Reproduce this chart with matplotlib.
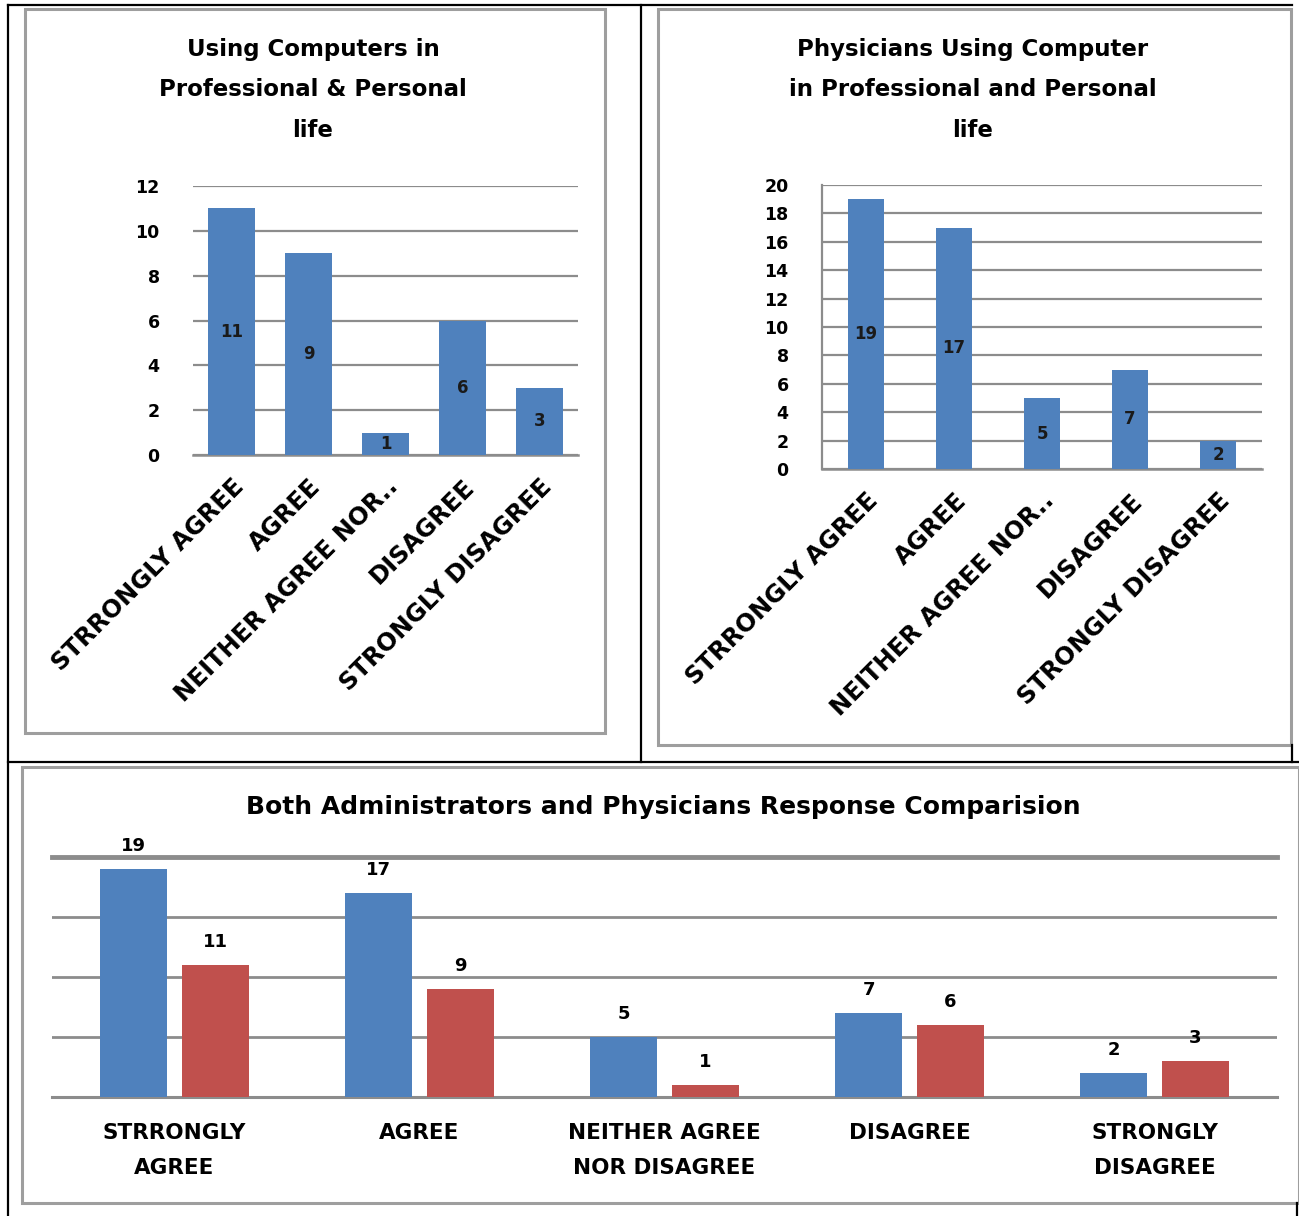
import matplotlib
matplotlib.use("Agg")
import matplotlib.pyplot as plt
from matplotlib.lines import Line2D
from matplotlib.patches import Rectangle
import numpy as np

# categories and values
short_labels = ["STRRONGLY AGREE", "AGREE", "NEITHER AGREE NOR..", "DISAGREE", "STRONGLY DISAGREE"]
long_labels = ["STRRONGLY\nAGREE", "AGREE", "NEITHER AGREE\nNOR DISAGREE", "DISAGREE", "STRONGLY\nDISAGREE"]
admin_counts = [11, 9, 1, 6, 3]
physician_counts = [19, 17, 5, 7, 2]

title_admin = "Using Computers in\nProfessional & Personal\nlife"
title_phys = "Physicians Using Computer\nin Professional and Personal\nlife"
title_both = "Both Administrators and Physicians Response Comparision"

blue = "#4F81BD"
red = "#C0504D"
grid_c = "#8c8c8c"

W, H = 1299, 1216
fig = plt.figure(figsize=(W / 100, H / 100), dpi=100)


def fx(x):
    return x / W


def fy(y):
    return 1 - y / H


def ax_at(left, top, right, bottom):
    return fig.add_axes([fx(left), fy(bottom), (right - left) / W, (bottom - top) / H])


def line(x0, y0, x1, y1, color="black", lw=1.6):
    fig.add_artist(Line2D([fx(x0), fx(x1)], [fy(y0), fy(y1)], transform=fig.transFigure,
                          color=color, lw=lw))


def box(x0, y0, x1, y1):
    fig.add_artist(Rectangle((fx(x0), fy(y1)), (x1 - x0) / W, (y1 - y0) / H,
                             transform=fig.transFigure, fill=False, ec="#9e9e9e", lw=2.2))


# page frame lines
line(8, 5, 1292, 5)
line(8, 5, 8, 1216)
line(641, 5, 641, 762)
line(8, 762, 1299, 762)
line(1292, 745, 1292, 762)
line(1297, 1203, 1297, 1216)
box(25, 9, 605, 733)
box(658, 9, 1291, 745)
box(22, 767, 1299, 1203)


def single_chart(ax, values, ymax, step, spine_left, width):
    x = np.arange(len(values))
    bars = ax.bar(x, values, width=width, color=blue, zorder=3)
    ax.bar_label(bars, label_type="center", fontsize=12, fontweight="bold", color="#1a1a1a")
    ax.set_ylim(0, ymax)
    ax.set_xlim(-0.5, len(values) - 0.5)
    ax.set_yticks(np.arange(0, ymax + 1, step))
    ax.yaxis.grid(True, color=grid_c, lw=1.6, zorder=0)
    ax.set_axisbelow(True)
    for s in ["top", "right"]:
        ax.spines[s].set_visible(False)
    ax.spines["bottom"].set_color(grid_c)
    ax.spines["bottom"].set_linewidth(1.8)
    ax.spines["left"].set_visible(spine_left)
    ax.spines["left"].set_color(grid_c)
    ax.spines["left"].set_linewidth(1.6)
    ax.tick_params(axis="both", length=0)
    ax.tick_params(axis="y", pad=24, labelsize=12.5)
    for t in ax.get_yticklabels():
        t.set_fontweight("bold")
    ax.set_xticks(x)
    ax.set_xticklabels(short_labels, rotation=45, ha="right", rotation_mode="anchor",
                       fontsize=17.5, fontweight="heavy")
    ax.tick_params(axis="x", pad=14)


ax1 = ax_at(193, 186, 578, 455)
single_chart(ax1, admin_counts, 12, 2, False, 0.61)
fig.text(fx(313), fy(90), title_admin, ha="center", va="center", fontsize=16.5,
         fontweight="bold", linespacing=1.95)

ax2 = ax_at(822, 185, 1262, 469)
single_chart(ax2, physician_counts, 20, 2, True, 0.42)
fig.text(fx(973), fy(90), title_phys, ha="center", va="center", fontsize=16.5,
         fontweight="bold", linespacing=1.95)

# comparison chart
ax3 = ax_at(52, 857, 1277, 1097)
x = np.arange(len(physician_counts))
bw = 0.273
b1 = ax3.bar(x - 0.167, physician_counts, width=bw, color=blue, zorder=3)
b2 = ax3.bar(x + 0.167, admin_counts, width=bw, color=red, zorder=3)
ax3.bar_label(b1, padding=10, fontsize=13, fontweight="bold")
ax3.bar_label(b2, padding=10, fontsize=13, fontweight="bold")
ax3.set_ylim(0, 20)
ax3.set_xlim(-0.5, len(x) - 0.5)
ax3.set_yticks([0, 5, 10, 15, 20])
ax3.set_yticklabels([])
ax3.yaxis.grid(True, color=grid_c, lw=2, zorder=0)
ax3.set_axisbelow(True)
for s in ["left", "right"]:
    ax3.spines[s].set_visible(False)
ax3.spines["top"].set_color(grid_c)
ax3.spines["top"].set_linewidth(3.5)
ax3.spines["bottom"].set_color(grid_c)
ax3.spines["bottom"].set_linewidth(2.2)
ax3.tick_params(axis="both", length=0)
ax3.set_xticks(x)
ax3.set_xticklabels(long_labels, fontsize=15.5, fontweight="bold", linespacing=1.9)
ax3.tick_params(axis="x", pad=19)
fig.text(fx(663), fy(807), title_both, ha="center", va="center", fontsize=18,
         fontweight="bold")

fig.savefig("out.png", dpi=100, facecolor="white")
